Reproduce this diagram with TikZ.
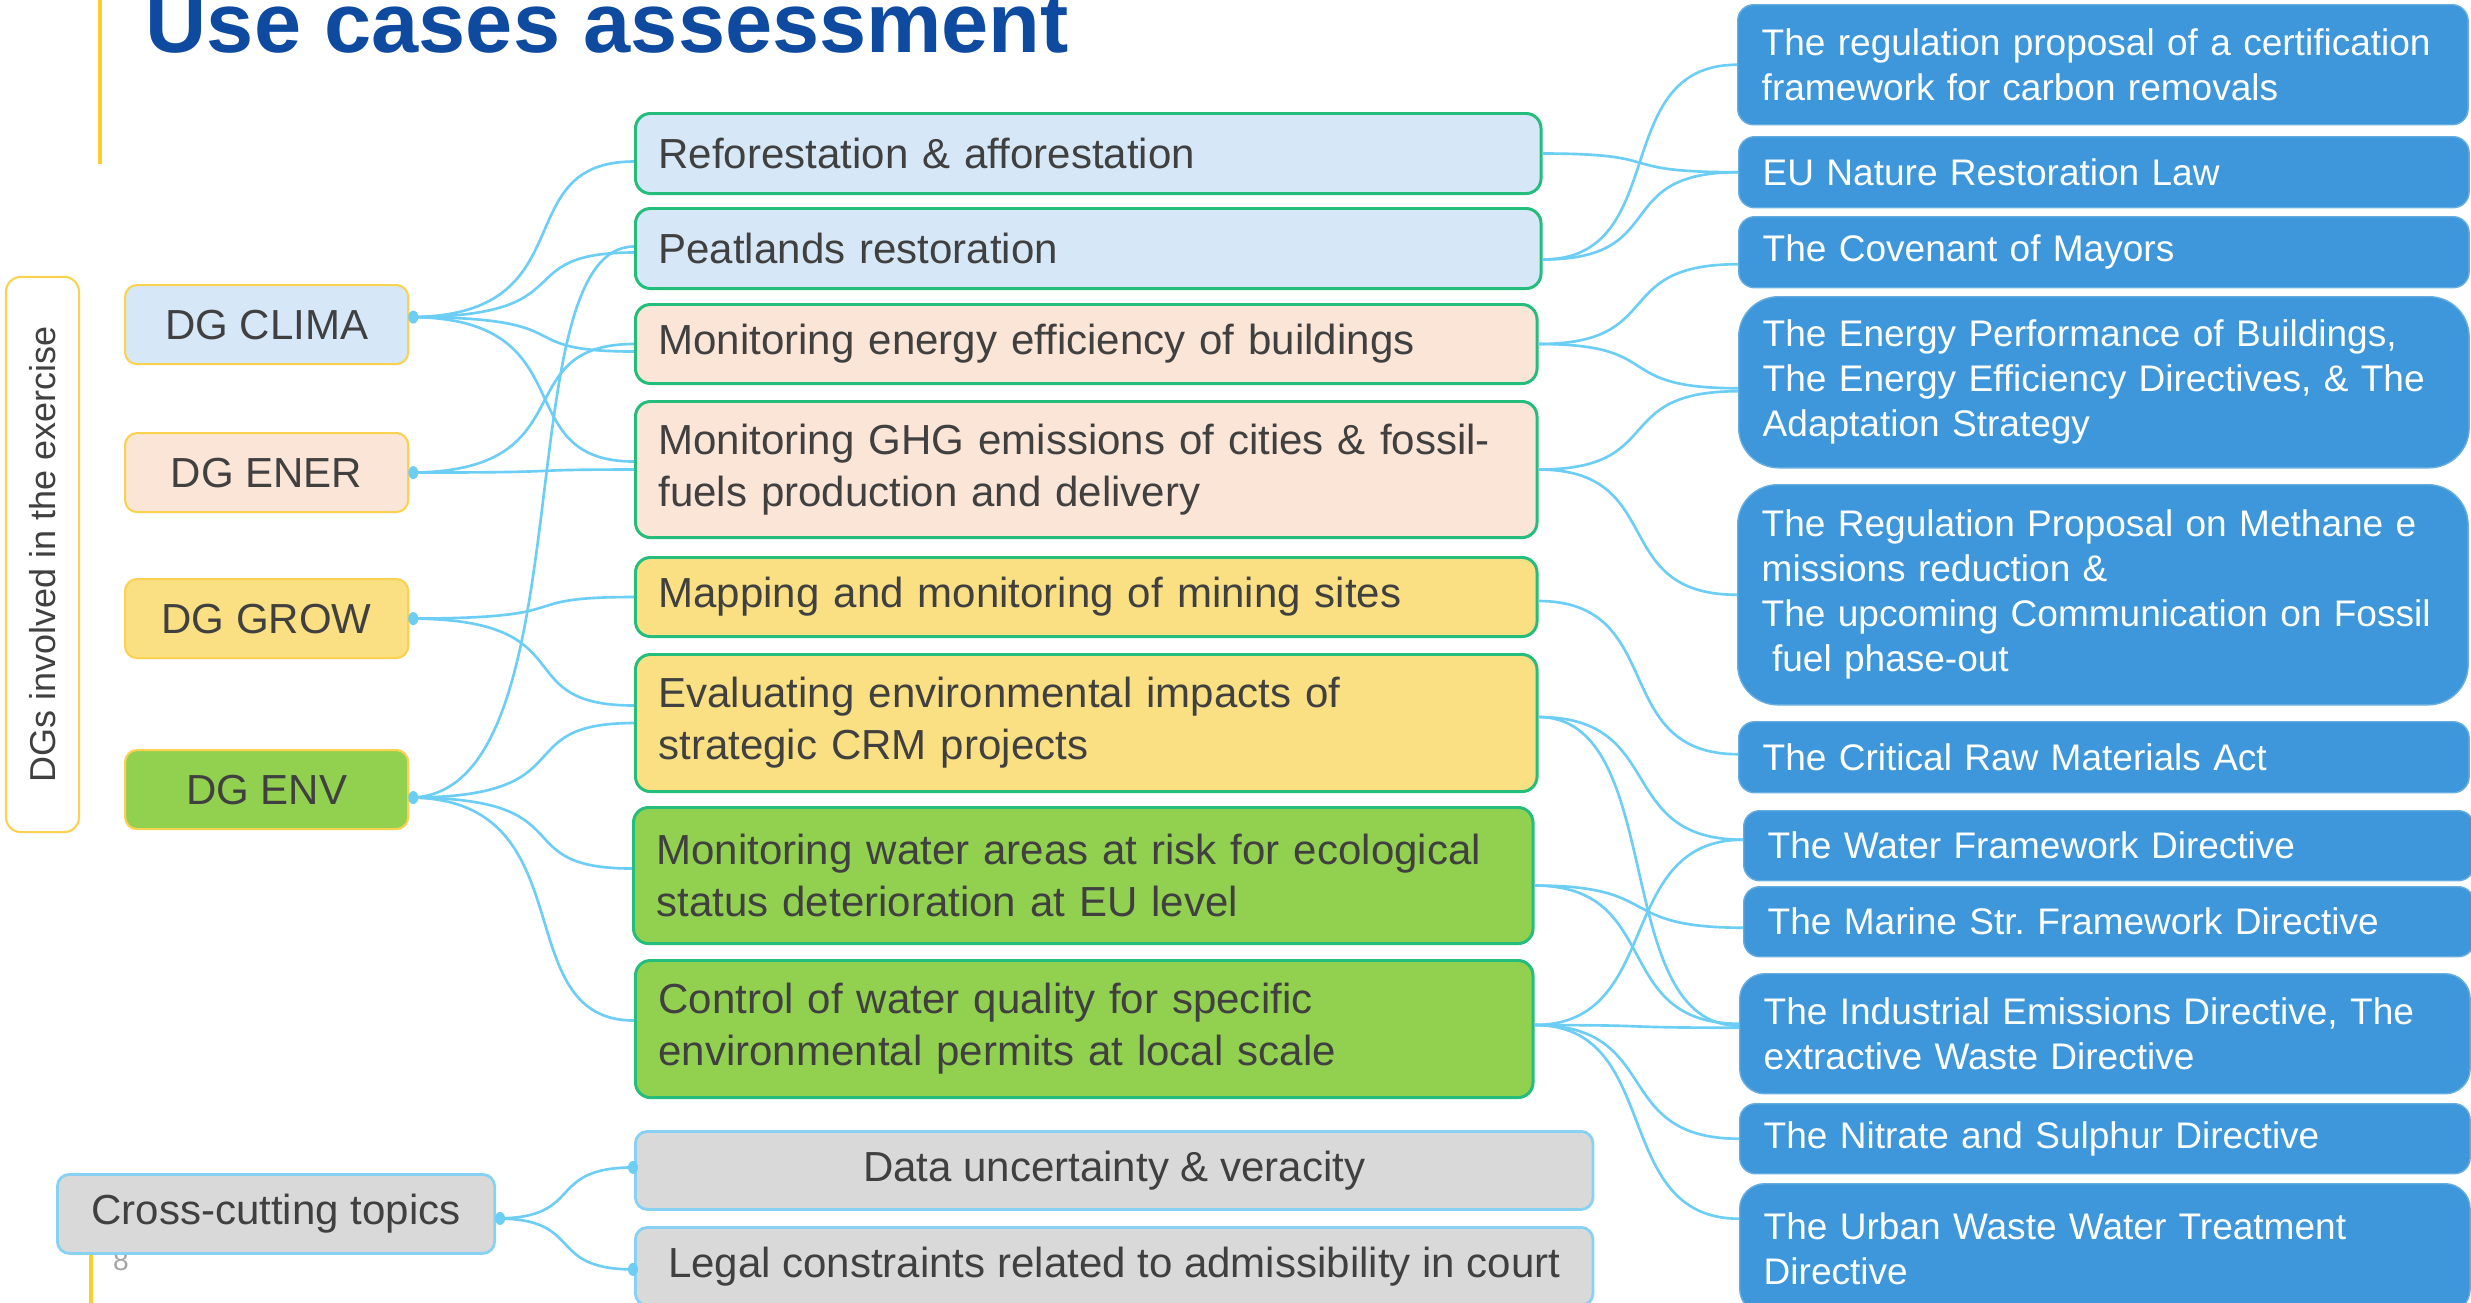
\documentclass[tikz,border=0pt]{standalone}
\usepackage{fontspec}
\setmainfont{Liberation Sans}
\usetikzlibrary{calc}

\definecolor{titleblue}{RGB}{13,74,160}
\definecolor{baryellow}{RGB}{250,204,46}
\definecolor{dgyellow}{RGB}{250,210,80}
\definecolor{climafill}{RGB}{214,232,247}
\definecolor{enerfill}{RGB}{251,229,214}
\definecolor{growfill}{RGB}{250,224,131}
\definecolor{envfill}{RGB}{146,208,80}
\definecolor{casegreen}{RGB}{36,189,124}
\definecolor{lawblue}{RGB}{62,151,218}
\definecolor{linkblue}{RGB}{108,205,245}
\definecolor{txtgray}{RGB}{64,64,64}
\definecolor{topicgray}{RGB}{217,217,217}
\definecolor{topicedge}{RGB}{135,210,243}
\definecolor{pagegray}{RGB}{165,165,165}

\newcommand\titlefont{\fontsize{24.1}{28}\selectfont\bfseries}
\newcommand\casefont{\fontsize{11.95}{14.8}\selectfont}
\newcommand\lawfont{\fontsize{10.53}{12.8}\selectfont}
\newcommand\sidefont{\fontsize{10.24}{12}\selectfont}

\tikzset{
	dgbox/.style={draw=dgyellow, line width=0.6pt, rounded corners=1.2mm, anchor=north west, minimum width=28.3mm, minimum height=7.9mm, inner sep=0pt, font=\casefont, text=txtgray},
	casebox/.style={draw=casegreen, line width=0.85pt, rounded corners=1.5mm, anchor=north west, inner xsep=2.3mm, inner ysep=0pt, align=left, font=\casefont, text=txtgray},
	topicbox/.style={draw=topicedge, fill=topicgray, line width=0.8pt, rounded corners=1.2mm, anchor=north west, inner sep=0pt, align=center, font=\casefont, text=txtgray},
	lawbox/.style={draw=lawblue!80!white, line width=0.4pt, fill=lawblue, rounded corners=1.6mm, anchor=north west, inner xsep=2.4mm, inner ysep=0pt, text width=68.2mm, align=left, font=\lawfont, text=white},
	link/.style={draw=linkblue, line width=0.75pt},
	barline/.style={draw=baryellow, line width=1.4pt}
}

\begin{document}
\begin{tikzpicture}[x=0.01cm, y=-0.01cm]
	% Page frame (1 unit = 1 pixel of the slide)
	\useasboundingbox (0,0) rectangle (2471,1303);

	% Slide decoration
	\draw[barline] (100,0) -- (100,164);
	\draw[barline] (91,1252) -- (91,1303);
	\node[font=\fontsize{8}{9}\selectfont, text=pagegray] (pagenum) at (121,1261) {8};
	\node[anchor=base west, inner sep=0pt, font=\titlefont, text=titleblue] (title) at (145,52) {Use cases assessment};

	% DGs
	\node[draw=dgyellow, fill=white, line width=0.6pt, rounded corners=1.5mm, rotate=90, minimum width=55.5mm, minimum height=7.3mm, inner sep=0pt, font=\sidefont, text=txtgray] (dgs) at (42.5,554.5) {DGs involved in the exercise};
	\node[dgbox, fill=climafill] (clima) at (124,284) {DG CLIMA};
	\node[dgbox, fill=enerfill] (ener) at (124,432) {DG ENER};
	\node[dgbox, fill=growfill] (grow) at (124,578) {DG GROW};
	\node[dgbox, fill=envfill] (env) at (124,749) {DG ENV};

	% Use cases
	\node[casebox, fill=climafill, text width=85.9mm, minimum height=8mm] (refo) at (634,112) {Reforestation \& afforestation};
	\node[casebox, fill=climafill, text width=85.9mm, minimum height=8mm] (peat) at (634,207) {Peatlands restoration};
	\node[casebox, fill=enerfill, text width=85.5mm, minimum height=7.9mm] (effi) at (634,303) {Monitoring energy efficiency of buildings};
	\node[casebox, fill=enerfill, text width=85.5mm, minimum height=13.6mm] (ghg) at (634,400) {Monitoring GHG emissions of cities \& fossil-\\fuels production and delivery};
	\node[casebox, fill=growfill, text width=85.5mm, minimum height=7.9mm] (mine) at (634,556) {Mapping and monitoring of mining sites};
	\node[casebox, fill=growfill, text width=85.5mm, minimum height=13.7mm] (crm) at (634,653) {Evaluating environmental impacts of\\strategic CRM projects};
	\node[casebox, fill=envfill, text width=85.3mm, minimum height=13.6mm] (wrisk) at (632,806) {Monitoring water areas at risk for ecological\\status deterioration at EU level};
	\node[casebox, fill=envfill, text width=85.1mm, minimum height=13.7mm] (wqual) at (634,959) {Control of water quality for specific\\environmental permits at local scale};

	% Cross-cutting topics
	\node[topicbox, minimum width=43.7mm, minimum height=7.9mm] (cross) at (56,1173) {Cross-cutting topics};
	\node[topicbox, minimum width=95.7mm, minimum height=7.8mm] (unc) at (634,1130) {Data uncertainty \& veracity};
	\node[topicbox, minimum width=95.7mm, minimum height=7.8mm] (legal) at (634,1226) {Legal constraints related to admissibility in court};

	% Policies
	\node[lawbox, minimum height=12mm] (carbon) at (1737,4) {The regulation proposal of a certification\\framework for carbon removals};
	\node[lawbox, minimum height=7.1mm] (nature) at (1738,136) {EU Nature Restoration Law};
	\node[lawbox, minimum height=7.1mm] (mayors) at (1738,216) {The Covenant of Mayors};
	\node[lawbox, minimum height=17.1mm, rounded corners=4mm] (epbd) at (1738,296) {The Energy Performance of Buildings,\\The Energy Efficiency Directives, \& The\\Adaptation Strategy};
	\node[lawbox, minimum height=22mm, rounded corners=4mm] (methane) at (1737,484) {The Regulation Proposal on Methane e\\missions reduction \&\\The upcoming Communication on Fossil\\\hspace*{0.28em}fuel phase-out};
	\node[lawbox, minimum height=7.1mm] (crma) at (1738,721) {The Critical Raw Materials Act};
	\node[lawbox, minimum height=7mm] (wfd) at (1743,810) {The Water Framework Directive};
	\node[lawbox, minimum height=7mm] (msfd) at (1743,886) {The Marine Str.\ Framework Directive};
	\node[lawbox, minimum height=12mm, rounded corners=2.5mm] (ied) at (1739,973) {The Industrial Emissions Directive, The\\extractive Waste Directive};
	\node[lawbox, minimum height=7mm] (nitrate) at (1739,1103) {The Nitrate and Sulphur Directive};
	\node[lawbox, minimum height=13mm, rounded corners=2.5mm] (uwwtd) at (1739,1183) {The Urban Waste Water Treatment\\Directive};

	% Links DGs -> use cases
	\foreach \src/\sy/\dst/\dy in {clima/0.75/refo/-0.8, clima/0.75/peat/-0.4, clima/0.75/effi/-0.75, clima/0.75/ghg/0.8, ener/0/effi/0, ener/0/ghg/0, grow/0/mine/0, grow/0/crm/1.75, env/-0.8/peat/0.2, env/-0.8/crm/0, env/-0.8/wrisk/0.7, env/-0.8/wqual/0.85}
		\draw[link] ([yshift=\sy mm]\src.east) .. controls +(180,0) and +(-130,0) .. ([yshift=\dy mm]\dst.west);

	% Links use cases -> policies
	\foreach \src/\sy/\dst/\dy in {refo/0/nature/0, peat/-1.1/carbon/0, peat/-1.1/nature/0, effi/0/mayors/-1.2, effi/0/epbd/-0.6, ghg/0/epbd/-0.9, ghg/0/methane/0, mine/-0.4/crma/0.3, crm/0.6/wfd/0.6, crm/0.6/ied/0.8, wrisk/-1/msfd/-0.6, wrisk/-1/ied/1, wqual/0.4/wfd/0.6, wqual/0.4/ied/0.6, wqual/0.4/nitrate/0, wqual/0.4/uwwtd/3}
		\draw[link] ([yshift=\sy mm]\src.east) .. controls +(130,0) and +(-130,0) .. ([yshift=\dy mm]\dst.west);

	% Links cross-cutting topics
	\foreach \dst/\dy in {unc/0.3, legal/-0.3}
		\draw[link] ([yshift=-0.45mm]cross.east) .. controls +(90,0) and +(-90,0) .. ([yshift=\dy mm]\dst.west);

	% Connector dots
	\foreach \n/\sy in {clima/0.75, ener/0, grow/0, env/-0.8, cross/-0.45}
		\fill[linkblue] ([xshift=0.4mm, yshift=\sy mm]\n.east) ellipse (0.5mm and 0.65mm);
	\foreach \n/\sy in {unc/0.3, legal/-0.3}
		\fill[linkblue] ([xshift=-0.1mm, yshift=\sy mm]\n.west) ellipse (0.5mm and 0.65mm);

\end{tikzpicture}
\end{document}
